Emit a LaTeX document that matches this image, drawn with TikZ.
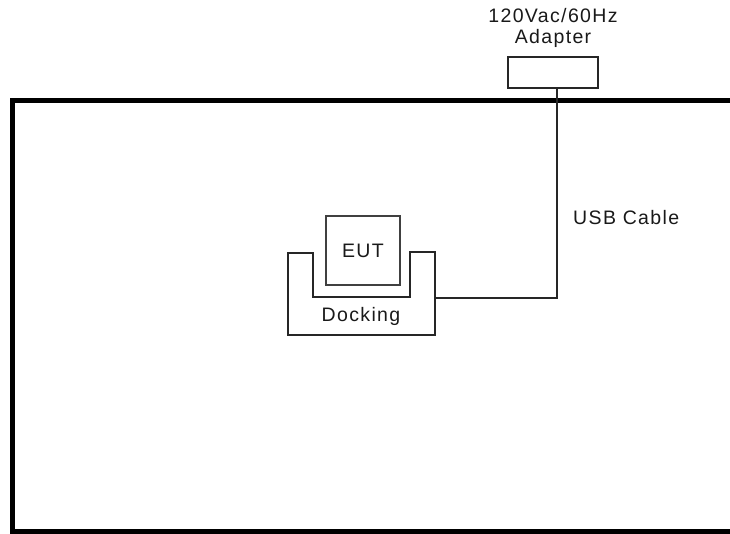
\documentclass[tikz,border=0pt]{standalone}
\usepackage{fontspec}
\setmainfont{Liberation Sans}[LetterSpace=7]
\begin{document}
\begin{tikzpicture}[x=1pt,y=-1pt,
  thin line/.style={draw=black!85,line width=1.4pt},
  lbl/.style={font=\fontsize{19.5}{21}\selectfont,inner sep=0pt,text=black!90},
  box/.style={thin line,rectangle,inner sep=0pt}]
\useasboundingbox (0,0) rectangle (730,533);
% table outline
\draw[line width=5pt] (735,100) -- (12,100) -- (12,531) -- (735,531);
% adapter
\node[box,minimum width=90pt,minimum height=31pt] (adapter) at (553,72.5) {};
\node[lbl,align=center] (adlabel) at (553,28) {120Vac/60Hz\\Adapter};
% EUT
\node[box,draw=black!75,line width=1.6pt,minimum width=74pt,minimum height=69pt,lbl] (eut) at (363,250.5) {EUT};
% docking
\draw[thin line] (288,253) -- (313,253) -- (313,297) -- (410,297) -- (410,252) -- (435,252) -- (435,335) -- (288,335) -- cycle;
\node[lbl] (dock) at (361,316) {Docking};
\coordinate (dockeast) at (435,298);
\coordinate (bend) at (557,298);
% cable
\draw[thin line] (adapter.south -| bend) -- (bend) -- (dockeast);
\node[lbl,anchor=west] (usb) at (573,218) {USB Cable};
\end{tikzpicture}
\end{document}
